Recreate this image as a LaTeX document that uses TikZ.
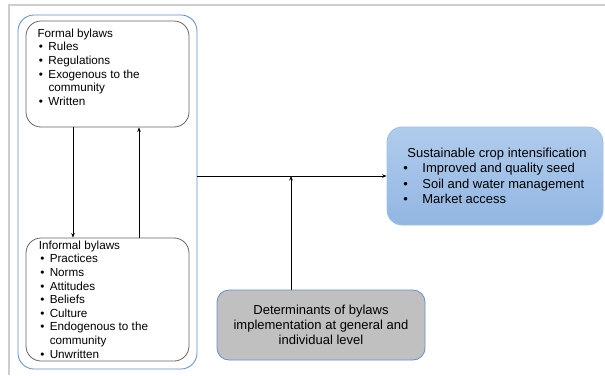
\documentclass[tikz,border=0pt]{standalone}
\usepackage{fontspec}
\setmainfont{Liberation Sans}
\usetikzlibrary{positioning, arrows.meta}
\definecolor{framegray}{RGB}{205,205,205}
\definecolor{groupblue}{RGB}{95,140,200}
\definecolor{boxgray}{RGB}{100,100,100}
\definecolor{croptop}{RGB}{176,204,236}
\definecolor{cropbottom}{RGB}{146,182,226}
\definecolor{cropline}{RGB}{160,192,232}
\definecolor{detfill}{RGB}{192,192,192}
\definecolor{detline}{RGB}{100,140,210}
\newcommand{\bitem}[1]{\hspace*{1.5pt}\makebox[9.5pt][l]{\textbullet}#1}
\newcommand{\bcont}[1]{\hspace*{11pt}#1}
\newcommand{\citem}[1]{\makebox[19pt][l]{\textbullet}#1}
\tikzset{
	lawbox/.style={draw=boxgray, line width=0.8pt, rounded corners=15pt, minimum width=163pt},
	lawtext/.style={anchor=north west, inner sep=0pt, align=left, font=\fontsize{11.7}{13.6}\selectfont},
	link/.style={-{Stealth[length=4.5pt, width=3.6pt]}, line width=0.7pt},
}
\begin{document}
\begin{tikzpicture}[x=1pt, y=-1pt]
	\useasboundingbox (0, 0) rectangle (605, 375);
	% page frame
	\draw[framegray, line width=1.2pt] (9, 375) -- (9, 5) -- (605, 5);

	\node[draw=groupblue, line width=0.8pt, rounded corners=16pt, minimum width=179pt, minimum height=354pt] (group) at (107.5, 192) {};
	\node[lawbox, minimum height=106pt] (formal) at (107.5, 74) {};
	\node[lawbox, minimum height=123pt] (informal) at (107.5, 299.5) {};
	\node[lawtext] (formaltext) at ([shift={(11.7, 8)}]formal.north west) {Formal bylaws\\ \bitem{Rules}\\ \bitem{Regulations}\\ \bitem{Exogenous to the}\\ \bcont{community}\\ \bitem{Written}};
	\node[lawtext] (informaltext) at ([shift={(13, 3)}]informal.north west) {Informal bylaws\\ \bitem{Practices}\\ \bitem{Norms}\\ \bitem{Attitudes}\\ \bitem{Beliefs}\\ \bitem{Culture}\\ \bitem{Endogenous to the}\\ \bcont{community}\\ \bitem{Unwritten}};

	\node[draw=cropline, line width=0.8pt, rounded corners=15pt, top color=croptop, bottom color=cropbottom, minimum width=216pt, minimum height=98pt, align=left, font=\fontsize{13}{15.5}\selectfont] (crop) at (495, 176) {\hspace*{4pt}Sustainable crop intensification\\ \citem{Improved and quality seed}\\ \citem{Soil and water management}\\ \citem{Market access}};
	\node[draw=detline, fill=detfill, line width=0.8pt, rounded corners=12pt, minimum width=208pt, minimum height=70pt, align=center, font=\fontsize{13}{15}\selectfont] (determ) at (321, 325) {Determinants of bylaws\\ implementation at general and\\ individual level};

	\draw[link] ([xshift=-34.5pt]formal.south) -- ([xshift=-34.5pt]informal.north);
	\draw[link] ([xshift=31.5pt]informal.north) -- ([xshift=31.5pt]formal.south);
	\draw[link] (group.east |- crop.west) -- (crop.west);
	\draw[link] ([xshift=-30pt]determ.north) -- ([xshift=-30pt]determ.north |- crop.west);
\end{tikzpicture}
\end{document}
